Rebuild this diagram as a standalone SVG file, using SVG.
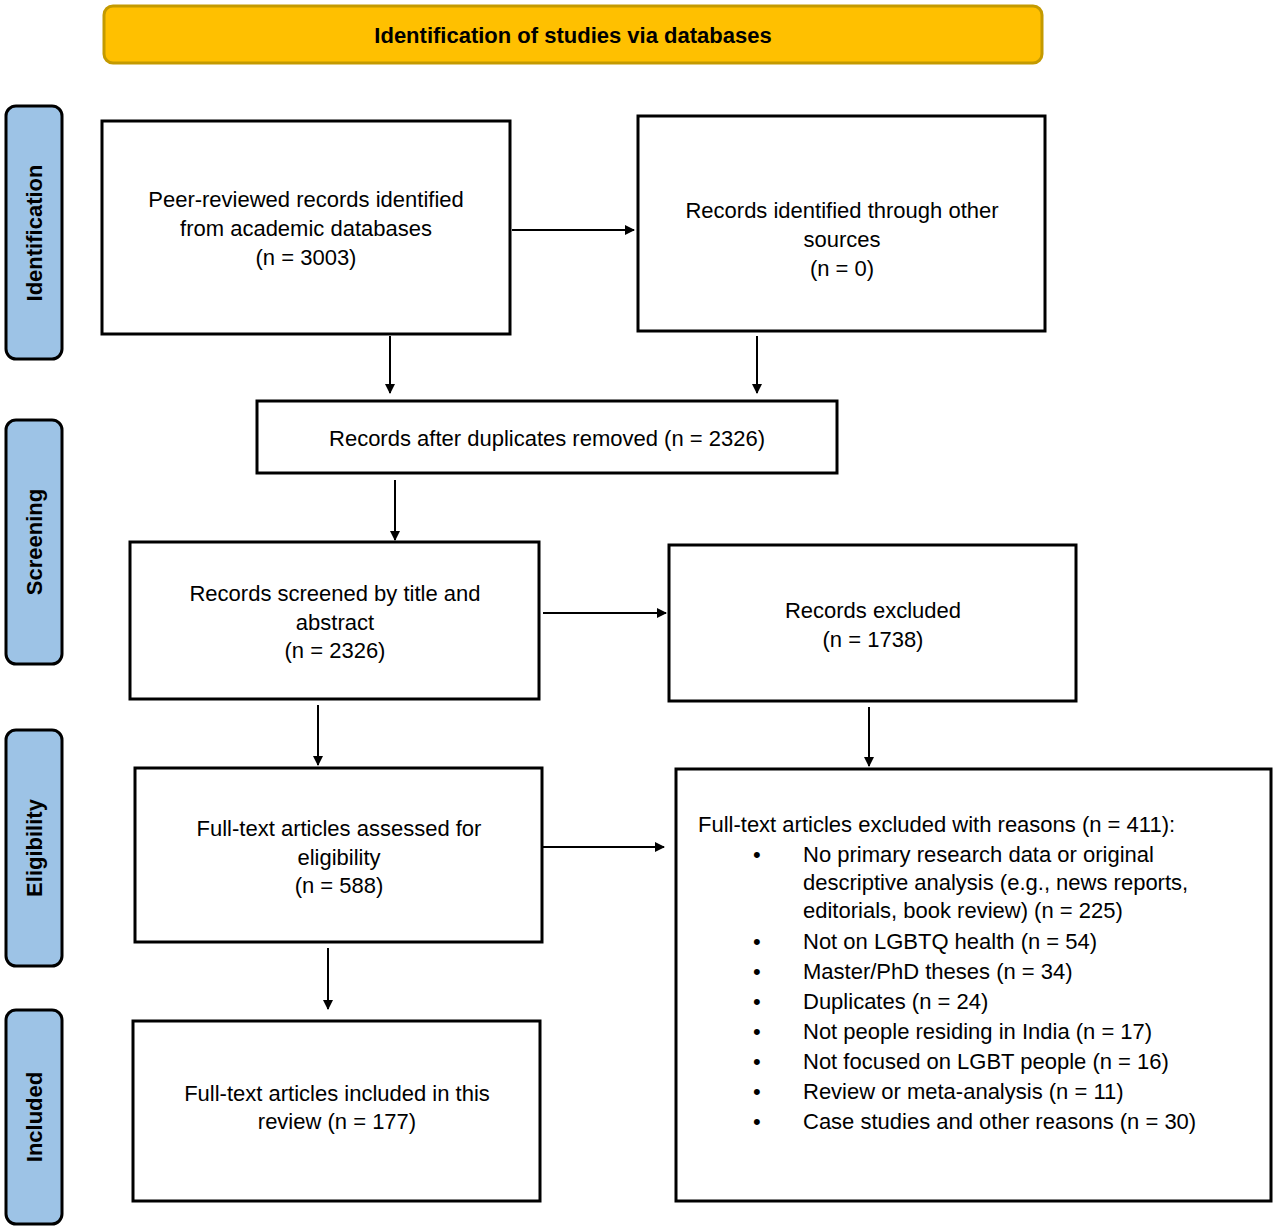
<svg xmlns="http://www.w3.org/2000/svg" width="1280" height="1232" viewBox="0 0 1280 1232">
<defs>
<marker id="ah" markerWidth="10" markerHeight="10" refX="9" refY="5" orient="auto" markerUnits="userSpaceOnUse" viewBox="0 0 10 10"><path d="M0,0 L10,5 L0,10 z" fill="#000"/></marker>
<style>
.box{fill:#fff;stroke:#000;stroke-width:3}
.side{fill:#9DC3E6;stroke:#000;stroke-width:3}
.t{font-family:"Liberation Sans",Arial,sans-serif;font-size:22px;fill:#000}
.c{text-anchor:middle}
.b{font-weight:bold}
.con line{stroke:#000;stroke-width:2;marker-end:url(#ah)}
</style>
</defs>
<rect width="1280" height="1232" fill="#fff"/>
<g id="header"><rect x="104" y="6" width="938" height="57" rx="9" fill="#FFC000" stroke="#C49A00" stroke-width="3"/><text class="t c b" x="573" y="43">Identification of studies via databases</text></g>
<g id="side-identification"><rect class="side" x="6" y="106" width="56" height="253" rx="10"/><text class="t c b" transform="translate(42,233) rotate(-90)">Identification</text></g>
<g id="side-screening"><rect class="side" x="6" y="420" width="56" height="244" rx="10"/><text class="t c b" transform="translate(42,542) rotate(-90)">Screening</text></g>
<g id="side-eligibility"><rect class="side" x="6" y="730" width="56" height="236" rx="10"/><text class="t c b" transform="translate(42,848) rotate(-90)">Eligibility</text></g>
<g id="side-included"><rect class="side" x="6" y="1010" width="56" height="214" rx="10"/><text class="t c b" transform="translate(42,1117) rotate(-90)">Included</text></g>
<g id="nodeA"><rect class="box" x="102" y="121" width="408" height="213"/><text class="t c" x="306" y="207">Peer-reviewed records identified</text><text class="t c" x="306" y="236">from academic databases</text><text class="t c" x="306" y="265">(n = 3003)</text></g>
<g id="nodeB"><rect class="box" x="638" y="116" width="407" height="215"/><text class="t c" x="842" y="218">Records identified through other</text><text class="t c" x="842" y="247">sources</text><text class="t c" x="842" y="276">(n = 0)</text></g>
<g id="nodeC"><rect class="box" x="257" y="401" width="580" height="72"/><text class="t c" x="547" y="446">Records after duplicates removed (n = 2326)</text></g>
<g id="nodeD"><rect class="box" x="130" y="542" width="409" height="157"/><text class="t c" x="335" y="601">Records screened by title and</text><text class="t c" x="335" y="630">abstract</text><text class="t c" x="335" y="658">(n = 2326)</text></g>
<g id="nodeE"><rect class="box" x="669" y="545" width="407" height="156"/><text class="t c" x="873" y="618">Records excluded</text><text class="t c" x="873" y="647">(n = 1738)</text></g>
<g id="nodeF"><rect class="box" x="135" y="768" width="407" height="174"/><text class="t c" x="339" y="836">Full-text articles assessed for</text><text class="t c" x="339" y="865">eligibility</text><text class="t c" x="339" y="893">(n = 588)</text></g>
<g id="nodeG"><rect class="box" x="676" y="769" width="595" height="432"/>
<text class="t" x="698" y="832">Full-text articles excluded with reasons (n = 411):</text>
<g class="t"><text x="753" y="862">•</text><text x="753" y="949">•</text><text x="753" y="979">•</text><text x="753" y="1009">•</text><text x="753" y="1039">•</text><text x="753" y="1069">•</text><text x="753" y="1099">•</text><text x="753" y="1129">•</text></g>
<text class="t" x="803" y="862">No primary research data or original</text>
<text class="t" x="803" y="890">descriptive analysis (e.g., news reports,</text>
<text class="t" x="803" y="918">editorials, book review) (n = 225)</text>
<text class="t" x="803" y="949">Not on LGBTQ health (n = 54)</text>
<text class="t" x="803" y="979">Master/PhD theses (n = 34)</text>
<text class="t" x="803" y="1009">Duplicates (n = 24)</text>
<text class="t" x="803" y="1039">Not people residing in India (n = 17)</text>
<text class="t" x="803" y="1069">Not focused on LGBT people (n = 16)</text>
<text class="t" x="803" y="1099">Review or meta-analysis (n = 11)</text>
<text class="t" x="803" y="1129">Case studies and other reasons (n = 30)</text>
</g>
<g id="nodeH"><rect class="box" x="133" y="1021" width="407" height="180"/><text class="t c" x="337" y="1101">Full-text articles included in this</text><text class="t c" x="337" y="1129">review (n = 177)</text></g>
<g id="connectors" class="con">
<line x1="512" y1="230" x2="634" y2="230"/>
<line x1="390" y1="336" x2="390" y2="393"/>
<line x1="757" y1="336" x2="757" y2="393"/>
<line x1="395" y1="480" x2="395" y2="540"/>
<line x1="543" y1="613" x2="666" y2="613"/>
<line x1="318" y1="705" x2="318" y2="765"/>
<line x1="869" y1="707" x2="869" y2="766"/>
<line x1="543" y1="847" x2="664" y2="847"/>
<line x1="328" y1="948" x2="328" y2="1009"/>
</g>
</svg>
